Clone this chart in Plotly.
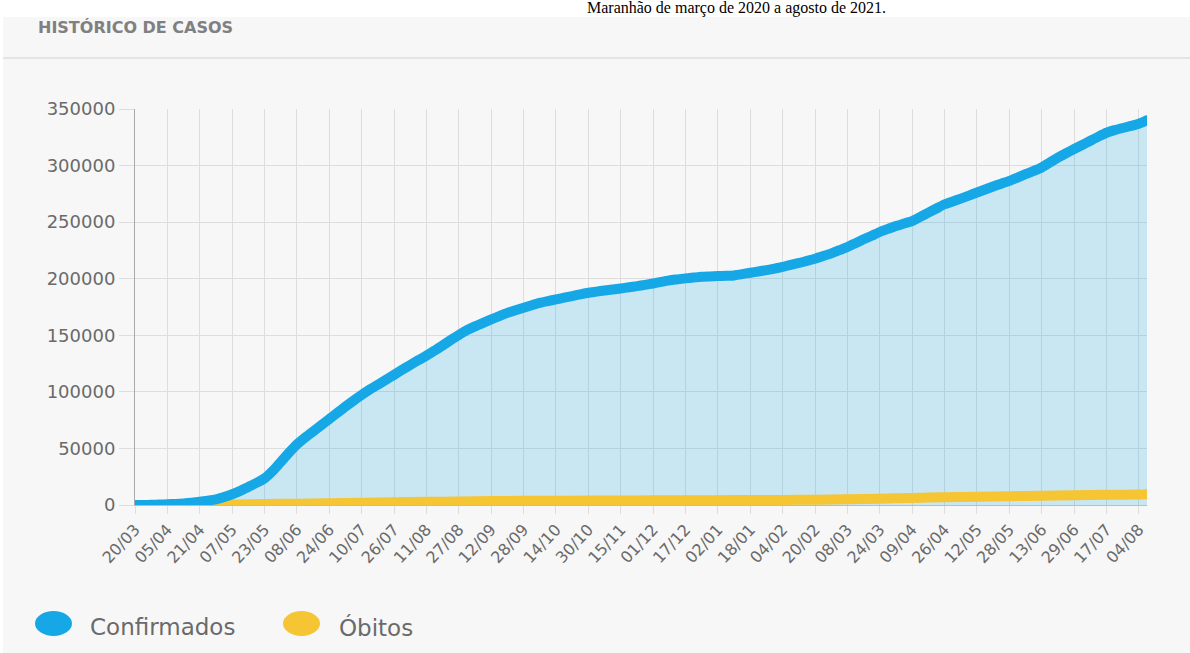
import plotly.graph_objects as go

# ---------------- data ----------------
dates = [
    "2020-03-20", "2020-03-24", "2020-03-28", "2020-04-01",
    "2020-04-05", "2020-04-09", "2020-04-13", "2020-04-17",
    "2020-04-21", "2020-04-25", "2020-04-29", "2020-05-03",
    "2020-05-07", "2020-05-11", "2020-05-15", "2020-05-19",
    "2020-05-23", "2020-05-27", "2020-05-31", "2020-06-04",
    "2020-06-08", "2020-06-12", "2020-06-16", "2020-06-20",
    "2020-06-24", "2020-06-28", "2020-07-02", "2020-07-06",
    "2020-07-10", "2020-07-14", "2020-07-18", "2020-07-22",
    "2020-07-26", "2020-07-30", "2020-08-03", "2020-08-07",
    "2020-08-11", "2020-08-15", "2020-08-19", "2020-08-23",
    "2020-08-27", "2020-08-31", "2020-09-04", "2020-09-08",
    "2020-09-12", "2020-09-16", "2020-09-20", "2020-09-24",
    "2020-09-28", "2020-10-02", "2020-10-06", "2020-10-10",
    "2020-10-14", "2020-10-18", "2020-10-22", "2020-10-26",
    "2020-10-30", "2020-11-03", "2020-11-07", "2020-11-11",
    "2020-11-15", "2020-11-19", "2020-11-23", "2020-11-27",
    "2020-12-01", "2020-12-05", "2020-12-09", "2020-12-13",
    "2020-12-17", "2020-12-21", "2020-12-25", "2020-12-29",
    "2021-01-02", "2021-01-06", "2021-01-10", "2021-01-14",
    "2021-01-18", "2021-01-22", "2021-01-26", "2021-01-30",
    "2021-02-04", "2021-02-08", "2021-02-12", "2021-02-16",
    "2021-02-20", "2021-02-24", "2021-02-28", "2021-03-04",
    "2021-03-08", "2021-03-12", "2021-03-16", "2021-03-20",
    "2021-03-24", "2021-03-28", "2021-04-01", "2021-04-05",
    "2021-04-09", "2021-04-13", "2021-04-17", "2021-04-21",
    "2021-04-26", "2021-04-30", "2021-05-04", "2021-05-08",
    "2021-05-12", "2021-05-16", "2021-05-20", "2021-05-24",
    "2021-05-28", "2021-06-01", "2021-06-05", "2021-06-09",
    "2021-06-13", "2021-06-17", "2021-06-21", "2021-06-25",
    "2021-06-29", "2021-07-03", "2021-07-08", "2021-07-12",
    "2021-07-17", "2021-07-21", "2021-07-26", "2021-07-30",
    "2021-08-04", "2021-08-08",
]

confirmados = [
    0, 50, 150, 350,
    600, 1000, 1400, 2000,
    2800, 3800, 5000, 7000,
    9500, 12500, 16000, 19500,
    23500, 30000, 38000, 46000,
    53500, 59500, 65000, 70500,
    76000, 81500, 87000, 92300,
    97300, 102000, 106300, 110700,
    115000, 119500, 123800, 128000,
    132000, 136500, 141000, 145800,
    150300, 154500, 157900, 161000,
    164000, 167000, 169800, 172200,
    174400, 176600, 178600, 180200,
    181700, 183200, 184700, 186200,
    187600, 188600, 189600, 190500,
    191400, 192400, 193400, 194600,
    195800, 197200, 198500, 199400,
    200300, 201000, 201700, 202000,
    202300, 202600, 202900, 204000,
    205300, 206400, 207600, 209000,
    210500, 212300, 213900, 215700,
    217700, 220000, 222400, 225200,
    228000, 231400, 234800, 238000,
    241300, 244000, 246600, 248800,
    251000, 254700, 258400, 262100,
    265800, 268300, 270800, 273500,
    276200, 278800, 281500, 284000,
    286500, 289400, 292400, 295300,
    298300, 302700, 307000, 310900,
    314600, 318200, 321900, 325600,
    329000, 331300, 333200, 335000,
    337000, 340000,
]

tick_dates = [
    "2020-03-20", "2020-04-05", "2020-04-21", "2020-05-07", "2020-05-23",
    "2020-06-08", "2020-06-24", "2020-07-10", "2020-07-26", "2020-08-11",
    "2020-08-27", "2020-09-12", "2020-09-28", "2020-10-14", "2020-10-30",
    "2020-11-15", "2020-12-01", "2020-12-17", "2021-01-02", "2021-01-18",
    "2021-02-04", "2021-02-20", "2021-03-08", "2021-03-24", "2021-04-09",
    "2021-04-26", "2021-05-12", "2021-05-28", "2021-06-13", "2021-06-29",
    "2021-07-17", "2021-08-04",
]
tick_labels = [
    "20/03", "05/04", "21/04", "07/05", "23/05", "08/06", "24/06", "10/07",
    "26/07", "11/08", "27/08", "12/09", "28/09", "14/10", "30/10", "15/11",
    "01/12", "17/12", "02/01", "18/01", "04/02", "20/02", "08/03", "24/03",
    "09/04", "26/04", "12/05", "28/05", "13/06", "29/06", "17/07", "04/08",
]

obitos_dates = tick_dates + ["2021-08-08"]
obitos = [
    0, 20, 150, 400, 800, 1200, 1600, 2000, 2400, 2800, 3150,
    3450, 3650, 3800, 3900, 4000, 4100, 4200, 4300, 4400, 4500,
    4700, 5100, 5600, 6200, 6900, 7400, 7800, 8200, 8700, 9000,
    9300, 9500,
]

y_ticks = [0, 50000, 100000, 150000, 200000, 250000, 300000, 350000]

series_names = ["Confirmados", "Óbitos"]
header_text = "HISTÓRICO DE CASOS"
caption_text = "Maranhão de março de 2020 a agosto de 2021."

# ---------------- style ----------------
W, H = 1190, 653
L, R, T, B = 135, 1147, 109, 505
BG = "#f7f7f7"
BLUE = "#16a8e6"
BLUE_FILL = "rgba(22,168,230,0.20)"
YELLOW = "#f5c533"
GRID = "#dddddd"
TXT = "#6a6a6a"
FONT = "DejaVu Sans"
CARD_TOP = 17


def px(x):
    return (x - L) / (R - L)


def py(y):
    return (B - y) / (B - T)


fig = go.Figure()

# fill under confirmed
fig.add_trace(go.Scatter(
    x=dates, y=confirmados, mode="lines", line=dict(width=0, color=BLUE),
    line_shape="spline", line_smoothing=0.6,
    fill="tozeroy", fillcolor=BLUE_FILL, showlegend=False, hoverinfo="skip",
))
# deaths line
fig.add_trace(go.Scatter(
    x=obitos_dates, y=obitos, mode="lines", name=series_names[1],
    line=dict(color=YELLOW, width=10, shape="spline", smoothing=0.6),
    showlegend=False,
))
fig.add_trace(go.Scatter(
    x=[obitos_dates[0], obitos_dates[-1]], y=[obitos[0], obitos[-1]],
    mode="markers", marker=dict(color=YELLOW, size=10), showlegend=False,
    hoverinfo="skip",
))
# confirmed line
fig.add_trace(go.Scatter(
    x=dates, y=confirmados, mode="lines", name=series_names[0],
    line=dict(color=BLUE, width=10, shape="spline", smoothing=0.6),
    showlegend=False,
))
fig.add_trace(go.Scatter(
    x=[dates[0], dates[-1]], y=[confirmados[0], confirmados[-1]],
    mode="markers", marker=dict(color=BLUE, size=10), showlegend=False,
    hoverinfo="skip",
))

shapes = [
    # white page strip above the card
    dict(type="rect", xref="paper", yref="paper", x0=px(-5), x1=px(W + 5),
         y0=py(CARD_TOP), y1=py(-5), fillcolor="white", line=dict(width=0),
         layer="below"),
    dict(type="rect", xref="paper", yref="paper", x0=px(-5), x1=px(3),
         y0=py(H + 5), y1=py(-5), fillcolor="white", line=dict(width=0),
         layer="below"),
    # header separator
    dict(type="line", xref="paper", yref="paper", x0=px(3), x1=px(W + 5),
         y0=py(58), y1=py(58), line=dict(color="#e4e4e4", width=2)),
    # legend symbols
    dict(type="circle", xref="paper", yref="paper", x0=px(35), x1=px(72),
         y0=py(636), y1=py(611), fillcolor=BLUE, line=dict(width=0)),
    dict(type="circle", xref="paper", yref="paper", x0=px(283), x1=px(320),
         y0=py(636), y1=py(611), fillcolor=YELLOW, line=dict(width=0)),
]

annotations = [
    dict(text=caption_text, xref="paper", yref="paper", x=px(736), y=py(-3),
         xanchor="center", yanchor="top", showarrow=False,
         font=dict(family="Liberation Serif", size=16, color="black")),
    dict(text="<b>" + header_text + "</b>", xref="paper", yref="paper",
         x=px(36), y=py(28), xanchor="left", yanchor="middle", showarrow=False,
         font=dict(family=FONT, size=16, color="#808080")),
    dict(text=series_names[0], xref="paper", yref="paper", x=px(88), y=py(627),
         xanchor="left", yanchor="middle", showarrow=False,
         font=dict(family=FONT, size=23, color=TXT)),
    dict(text=series_names[1], xref="paper", yref="paper", x=px(337), y=py(627),
         xanchor="left", yanchor="middle", showarrow=False,
         font=dict(family=FONT, size=23, color=TXT)),
]

fig.update_layout(
    width=W, height=H, autosize=False,
    margin=dict(l=L, r=W - R, t=T, b=H - B, pad=0),
    paper_bgcolor=BG, plot_bgcolor=BG,
    font=dict(family=FONT, color=TXT),
    showlegend=False,
    shapes=shapes, annotations=annotations,
    xaxis=dict(
        type="category", categoryorder="array", categoryarray=dates,
        range=[0, len(dates) - 1],
        tickmode="array", tickvals=tick_dates, ticktext=tick_labels,
        tickangle=-47, tickfont=dict(size=16, color=TXT),
        showgrid=True, gridcolor=GRID, gridwidth=1,
        ticks="outside", ticklen=8, tickcolor=GRID,
        showline=True, linecolor="#bdbdbd", linewidth=1,
        automargin=False, fixedrange=True,
    ),
    yaxis=dict(
        range=[0, 350000], tickmode="array", tickvals=y_ticks,
        ticktext=[str(v) for v in y_ticks],
        tickfont=dict(size=18, color=TXT),
        showgrid=True, gridcolor=GRID, gridwidth=1, zeroline=False,
        ticks="outside", ticklen=15, tickcolor=GRID,
        showline=True, linecolor="#a8a8a8", linewidth=1,
        automargin=False, fixedrange=True,
    ),
)

fig.write_html("out.html")
